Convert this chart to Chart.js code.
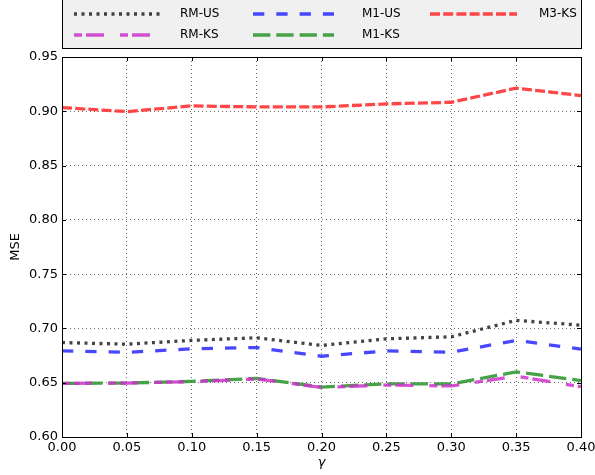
<!DOCTYPE html>
<html>
<head>
<meta charset="utf-8">
<script src="https://cdn.jsdelivr.net/npm/chart.js@4.4.1/dist/chart.umd.min.js"></script>
<style>
  html, body { margin: 0; padding: 0; background: #fff; }
  #wrap { width: 595px; height: 475px; position: relative; }
</style>
</head>
<body>
<div id="wrap"><canvas id="mseChart"></canvas></div>
<script>
// MSE vs gamma, five methods, matplotlib-classic look

const gammas = [0.00, 0.05, 0.10, 0.15, 0.20, 0.25, 0.30, 0.35, 0.40];
const rmUS = [0.687, 0.6855, 0.689, 0.6914, 0.6843, 0.6904, 0.6923, 0.7074, 0.703];
const rmKS = [0.6494, 0.6497, 0.651, 0.6535, 0.6457, 0.6478, 0.647, 0.656, 0.6463];
const m1US = [0.6793, 0.678, 0.6812, 0.6824, 0.6744, 0.6793, 0.678, 0.689, 0.681];
const m1KS = [0.6494, 0.6497, 0.6512, 0.654, 0.646, 0.649, 0.6488, 0.66, 0.652];
const m3KS = [0.9034, 0.8997, 0.905, 0.904, 0.904, 0.9068, 0.9083, 0.9213, 0.9145];
const xTicks = [0.00, 0.05, 0.10, 0.15, 0.20, 0.25, 0.30, 0.35, 0.40];
const yTicks = [0.60, 0.65, 0.70, 0.75, 0.80, 0.85, 0.90, 0.95];

const FONT = 'DejaVu Sans';

const SERIES = [
  { label: 'RM-US', values: rmUS, color: 'rgba(34,34,34,0.85)',  dash: [3, 4.5] },
  { label: 'RM-KS', values: rmKS, color: 'rgba(204,51,204,0.85)', dash: [8, 4, 18, 16] },
  { label: 'M1-US', values: m1US, color: 'rgba(51,51,255,0.9)',  dash: [11.3, 12] },
  { label: 'M1-KS', values: m1KS, color: 'rgba(51,153,51,0.9)',  dash: [17.3, 6] },
  { label: 'M3-KS', values: m3KS, color: 'rgba(255,51,51,0.9)',  dash: [10, 3.2] }
];

const datasets = SERIES.map(s => ({
  label: s.label,
  data: gammas.map((g, i) => ({ x: g, y: s.values[i] })),
  borderColor: s.color,
  backgroundColor: s.color,
  borderDash: s.dash,
  borderWidth: 3.3,
  pointRadius: 0,
  tension: 0,
  fill: false
}));

// frame + inward tick marks like matplotlib
const framePlugin = {
  id: 'frame',
  afterDatasetsDraw(chart) {
    const { ctx, chartArea: a, scales } = chart;
    ctx.save();
    ctx.strokeStyle = '#000';
    ctx.lineWidth = 1;
    ctx.setLineDash([]);
    ctx.beginPath();
    for (const v of xTicks) {
      const px = Math.round(scales.x.getPixelForValue(v)) + 0.5;
      ctx.moveTo(px, a.bottom); ctx.lineTo(px, a.bottom - 4);
      ctx.moveTo(px, a.top); ctx.lineTo(px, a.top + 4);
    }
    for (const v of yTicks) {
      const py = Math.round(scales.y.getPixelForValue(v)) + 0.5;
      ctx.moveTo(a.left, py); ctx.lineTo(a.left + 4, py);
      ctx.moveTo(a.right, py); ctx.lineTo(a.right - 4, py);
    }
    ctx.stroke();
    ctx.strokeRect(Math.round(a.left) + 0.5, Math.round(a.top) + 0.5,
      Math.round(a.right - a.left), Math.round(a.bottom - a.top));
    ctx.restore();
  }
};

// legend box above the plot, 3 columns filled column-wise
const legendPlugin = {
  id: 'mplLegend',
  afterDraw(chart) {
    const { ctx, chartArea: a } = chart;
    const cols = [
      { x0: 74, x1: 162, tx: 180 },
      { x0: 253, x1: 334, tx: 362 },
      { x0: 430, x1: 517, tx: 539 }
    ];
    const rows = [14, 35];
    ctx.save();
    ctx.fillStyle = '#f0f0f0';
    ctx.fillRect(a.left, -2, a.right - a.left, 51);
    ctx.strokeStyle = '#000';
    ctx.lineWidth = 1;
    ctx.strokeRect(Math.round(a.left) + 0.5, -1.5, Math.round(a.right - a.left), 50);
    chart.data.datasets.forEach((ds, i) => {
      const c = cols[Math.floor(i / 2)];
      const y = rows[i % 2];
      ctx.beginPath();
      ctx.strokeStyle = ds.borderColor;
      ctx.lineWidth = ds.borderWidth;
      ctx.setLineDash(ds.borderDash);
      ctx.moveTo(c.x0, y);
      ctx.lineTo(c.x1, y);
      ctx.stroke();
      ctx.setLineDash([]);
      ctx.fillStyle = '#000';
      ctx.font = `12px "${FONT}"`;
      ctx.textBaseline = 'middle';
      ctx.textAlign = 'left';
      ctx.fillText(ds.label, c.tx, y);
    });
    ctx.restore();
  }
};

const gridStyle = {
  color: '#444',
  lineWidth: 0.8,
  drawTicks: false
};

new Chart(document.getElementById('mseChart'), {
  type: 'line',
  data: { datasets },
  plugins: [framePlugin, legendPlugin],
  options: {
    responsive: true,
    maintainAspectRatio: false,
    animation: false,
    layout: { padding: { top: 57, right: 14, bottom: 0, left: 0 } },
    plugins: { legend: { display: false }, tooltip: { enabled: false } },
    scales: {
      x: {
        type: 'linear',
        min: 0, max: 0.4,
        afterBuildTicks: scale => { scale.ticks = xTicks.map(v => ({ value: v })); },
        afterFit: scale => { scale.height = 38; scale.paddingLeft = 0; scale.paddingRight = 0; },
        grid: gridStyle,
        border: { display: false, dash: [1, 3] },
        ticks: {
          padding: 3,
          color: '#000',
          maxRotation: 0,
          font: { family: FONT, size: 13 },
          callback: v => Number(v).toFixed(2)
        },
        title: {
          display: true,
          text: 'γ',
          color: '#000',
          font: { family: FONT, size: 13, style: 'italic' },
          padding: { top: 0, bottom: 5 }
        }
      },
      y: {
        min: 0.6, max: 0.95,
        afterBuildTicks: scale => { scale.ticks = yTicks.map(v => ({ value: v })); },
        afterFit: scale => { scale.width = 62; scale.paddingTop = 0; scale.paddingBottom = 0; },
        grid: gridStyle,
        border: { display: false, dash: [1, 3] },
        ticks: {
          padding: 4,
          color: '#000',
          font: { family: FONT, size: 13 },
          callback: v => Number(v).toFixed(2)
        },
        title: {
          display: true,
          text: 'MSE',
          color: '#000',
          font: { family: FONT, size: 13 },
          padding: { top: 8, bottom: 0 }
        }
      }
    }
  }
});
</script>
</body>
</html>
